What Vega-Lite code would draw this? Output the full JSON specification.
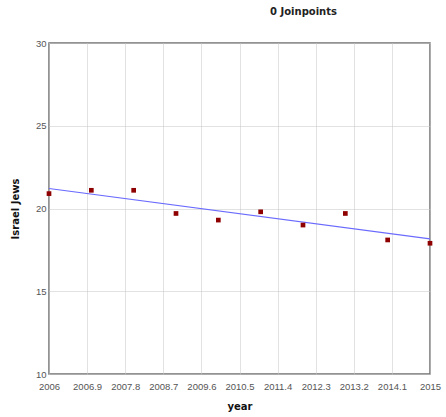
{
  "$schema": "https://vega.github.io/schema/vega-lite/v6.json",
  "width": 381,
  "height": 331,
  "autosize": {"type": "none"},
  "padding": {"left": 49, "top": 43, "right": 16, "bottom": 43},
  "background": "white",
  "title": {
    "text": "0 Joinpoints",
    "font": "DejaVu Sans",
    "fontSize": 10,
    "fontWeight": "bold",
    "color": "#222222",
    "anchor": "middle",
    "dx": 64,
    "offset": 21
  },
  "config": {
    "view": {"stroke": "#707070", "strokeWidth": 1.5},
    "axis": {
      "labelFont": "Liberation Sans",
      "labelFontSize": 9.5,
      "labelColor": "#555555",
      "titleFont": "DejaVu Sans",
      "titleFontSize": 10,
      "titleFontWeight": "bold",
      "titleColor": "#111111",
      "grid": true,
      "gridColor": "#c4c4c4",
      "gridDash": [1, 1],
      "gridWidth": 1,
      "domain": false,
      "ticks": false
    }
  },
  "datasets": {
    "obs": [
      {"year": 2006, "value": 20.9},
      {"year": 2007, "value": 21.1},
      {"year": 2008, "value": 21.1},
      {"year": 2009, "value": 19.7},
      {"year": 2010, "value": 19.3},
      {"year": 2011, "value": 19.8},
      {"year": 2012, "value": 19.0},
      {"year": 2013, "value": 19.7},
      {"year": 2014, "value": 18.1},
      {"year": 2015, "value": 17.9}
    ],
    "fit": [
      {"year": 2006, "value": 21.21},
      {"year": 2015, "value": 18.16}
    ]
  },
  "encoding": {
    "x": {
      "field": "year",
      "type": "quantitative",
      "scale": {"domain": [2006, 2015], "nice": false, "zero": false},
      "axis": {
        "title": "year",
        "values": [2006, 2006.9, 2007.8, 2008.7, 2009.6, 2010.5, 2011.4, 2012.3, 2013.2, 2014.1, 2015],
        "labelExpr": "format(datum.value, '~f')",
        "labelPadding": 7,
        "labelFlush": false,
        "labelOverlap": false,
        "titleBaseline": "middle",
        "titleY": 32
      }
    },
    "y": {
      "field": "value",
      "type": "quantitative",
      "scale": {"domain": [10, 30], "nice": false, "zero": false},
      "axis": {
        "title": "Israel Jews",
        "values": [10, 15, 20, 25, 30],
        "labelPadding": 3,
        "labelFlush": false,
        "titleX": -34,
        "titleY": 165.5,
        "titleAlign": "center",
        "titleBaseline": "middle",
        "titleAngle": 270
      }
    }
  },
  "layer": [
    {
      "data": {"name": "fit"},
      "mark": {"type": "line", "color": "#6a6aff", "strokeWidth": 1.2}
    },
    {
      "data": {"name": "obs"},
      "mark": {"type": "square", "color": "#8f0000", "opacity": 1, "size": 22}
    }
  ]
}
